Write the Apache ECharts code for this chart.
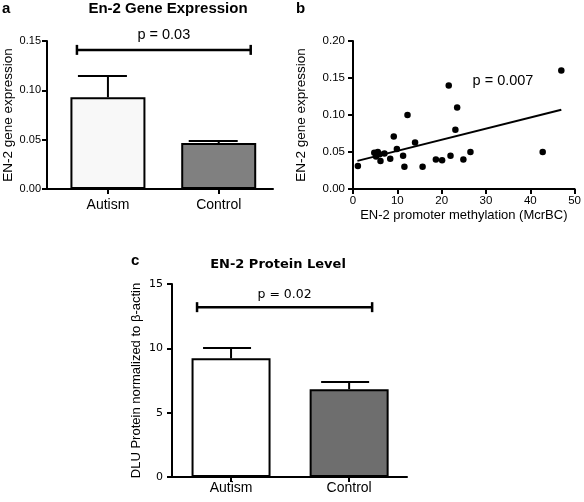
<!DOCTYPE html>
<html>
<head>
<meta charset="utf-8">
<script src="https://cdn.jsdelivr.net/npm/echarts@6/dist/echarts.min.js"></script>
<style>html,body{margin:0;padding:0;background:#fff}#c{width:584px;height:502px}</style>
</head>
<body>
<div id="c"></div>
<script>
// ---- data ----
const groups = ['Autism', 'Control'];
const geneMean = [0.093, 0.0466];
const geneSem = [0.0215, 0.002];
const geneBracketY = 0.141;
const genePLabel = 'p = 0.03';

const methX = [1.1, 4.8, 5.2, 5.6, 6.0, 6.2, 7.1, 8.4, 9.2, 9.9, 11.3, 11.6, 12.3, 14.0, 15.7, 18.7, 20.1, 21.6, 22.0, 23.1, 23.5, 24.9, 26.5, 42.8, 47.0];
const methY = [0.031, 0.049, 0.044, 0.050, 0.047, 0.038, 0.048, 0.041, 0.071, 0.054, 0.045, 0.030, 0.100, 0.063, 0.030, 0.040, 0.039, 0.140, 0.045, 0.080, 0.110, 0.040, 0.050, 0.050, 0.160];
const fitX = [1.0, 47.0];
const fitY = [0.038, 0.107];
const methPLabel = 'p = 0.007';

const protMean = [9.22, 6.82];
const protSem = [0.8, 0.56];
const protBracketY = 13.2;
const protPLabel = 'p = 0.02';

// ---- styles ----
const FF = 'Liberation Sans, Arial, sans-serif';
const FD = 'DejaVu Sans, sans-serif';
const TXT = '#000';
const barFillA = ['#f8f8f8', '#808080'];
const barFillC = ['#ffffff', '#6e6e6e'];
const axisLine = { show: true, onZero: false, lineStyle: { color: '#000', width: 2 } };
const axisTick = { show: true, length: 5, lineStyle: { color: '#000', width: 2 } };

function errSeries(means, sems, xi, yi, capL, capR) {
  return {
    type: 'custom', xAxisIndex: xi, yAxisIndex: yi, z: 1,
    data: means.map((m, i) => [i, m, m + sems[i]]),
    renderItem: function (params, api) {
      const b = api.coord([api.value(0), api.value(1)]);
      const e = api.coord([api.value(0), api.value(2)]);
      const st = { stroke: '#000', lineWidth: 2 };
      return { type: 'group', children: [
        { type: 'line', shape: { x1: b[0], y1: b[1], x2: e[0], y2: e[1] }, style: st },
        { type: 'line', shape: { x1: e[0] - capL, y1: e[1], x2: e[0] + capR, y2: e[1] }, style: st }
      ]};
    }
  };
}
function bracketSeries(y, label, xi, yi, offL, offR, font, size, gap) {
  return {
    type: 'custom', xAxisIndex: xi, yAxisIndex: yi, z: 5,
    data: [[0, y, 1]],
    renderItem: function (params, api) {
      const p0 = api.coord([api.value(0), api.value(1)]);
      const p1 = api.coord([api.value(2), api.value(1)]);
      const xl = p0[0] - offL, xr = p1[0] + offR, yy = p0[1];
      const st = { stroke: '#000', lineWidth: 2.5 };
      return { type: 'group', children: [
        { type: 'line', shape: { x1: xl, y1: yy, x2: xr, y2: yy }, style: st },
        { type: 'line', shape: { x1: xl, y1: yy - 5, x2: xl, y2: yy + 5 }, style: st },
        { type: 'line', shape: { x1: xr, y1: yy - 5, x2: xr, y2: yy + 5 }, style: st },
        { type: 'text', style: { text: label, x: (xl + xr) / 2, y: yy - gap, align: 'center', verticalAlign: 'bottom', fontFamily: font, fontSize: size, fill: TXT } }
      ]};
    }
  };
}

const chart = echarts.init(document.getElementById('c'), null, { renderer: 'canvas' });
chart.setOption({
  animation: false,
  backgroundColor: '#fff',
  grid: [
    { left: 47, top: 41, width: 226, height: 148 },
    { left: 353, top: 41, width: 223, height: 148 },
    { left: 172, top: 284, width: 235, height: 193 }
  ],
  xAxis: [
    {
      gridIndex: 0, type: 'value', min: -0.55, max: 1.49, splitLine: { show: false }, axisLine: axisLine,
      axisTick: Object.assign({}, axisTick, { customValues: [0, 1] }),
      axisLabel: { customValues: [0, 1], formatter: v => groups[Math.round(v)], margin: 9, color: TXT, fontFamily: FF, fontSize: 14 }
    },
    {
      gridIndex: 1, type: 'value', min: 0, max: 50, interval: 10, splitLine: { show: false }, axisLine: axisLine, axisTick: axisTick,
      axisLabel: { margin: 6, color: TXT, fontFamily: FF, fontSize: 11.5 },
      name: 'EN-2 promoter methylation (McrBC)', nameLocation: 'middle', nameGap: 20,
      nameTextStyle: { color: TXT, fontFamily: FF, fontSize: 13, verticalAlign: 'top' }
    },
    {
      gridIndex: 2, type: 'value', min: -0.5, max: 1.49, splitLine: { show: false }, axisLine: axisLine,
      axisTick: Object.assign({}, axisTick, { customValues: [0, 1] }),
      axisLabel: { customValues: [0, 1], formatter: v => groups[Math.round(v)], margin: 4, color: TXT, fontFamily: FF, fontSize: 14 }
    }
  ],
  yAxis: [
    {
      gridIndex: 0, type: 'value', min: 0, max: 0.15, interval: 0.05, splitLine: { show: false }, axisLine: axisLine, axisTick: axisTick,
      axisLabel: { margin: 6, color: TXT, fontFamily: FF, fontSize: 11, formatter: v => v.toFixed(2) },
      name: 'EN-2 gene expression', nameLocation: 'middle', nameGap: 32,
      nameTextStyle: { color: TXT, fontFamily: FF, fontSize: 13.5 }
    },
    {
      gridIndex: 1, type: 'value', min: 0, max: 0.2, interval: 0.05, splitLine: { show: false }, axisLine: axisLine, axisTick: axisTick,
      axisLabel: { margin: 8, color: TXT, fontFamily: FF, fontSize: 11.5, formatter: v => v.toFixed(2) },
      name: 'EN-2 gene expression', nameLocation: 'middle', nameGap: 45,
      nameTextStyle: { color: TXT, fontFamily: FF, fontSize: 13.5 }
    },
    {
      gridIndex: 2, type: 'value', min: 0, max: 15, interval: 5, splitLine: { show: false }, axisLine: axisLine, axisTick: axisTick,
      axisLabel: { margin: 9, color: TXT, fontFamily: FD, fontSize: 11 },
      name: 'DLU Protein normalized to β-actin', nameLocation: 'middle', nameGap: 29,
      nameTextStyle: { color: TXT, fontFamily: FF, fontSize: 13 }
    }
  ],
  graphic: [
    { type: 'text', left: 2, top: 1, style: { text: 'a', font: 'bold 15px ' + FF, fill: '#000' } },
    { type: 'text', left: 296, top: 1, style: { text: 'b', font: 'bold 15px ' + FF, fill: '#000' } },
    { type: 'text', left: 131, top: 253, style: { text: 'c', font: 'bold 15px ' + FF, fill: '#000' } },
    { type: 'text', x: 168, y: 9, style: { text: 'En-2 Gene Expression', align: 'center', verticalAlign: 'middle', font: 'bold 15px ' + FF, fill: TXT } },
    { type: 'text', x: 278, y: 265, style: { text: 'EN-2 Protein Level', align: 'center', verticalAlign: 'middle', font: 'bold 13px ' + FD, fill: TXT } },
    { type: 'text', x: 503, y: 81, style: { text: methPLabel, align: 'center', verticalAlign: 'middle', font: '14.5px ' + FF, fill: TXT } }
  ],
  series: [
    errSeries(geneMean, geneSem, 0, 0, 30, 19),
    {
      type: 'bar', xAxisIndex: 0, yAxisIndex: 0, barWidth: 75, z: 2,
      data: geneMean.map((v, i) => ({ value: [i, v], itemStyle: { color: barFillA[i], borderColor: '#000', borderWidth: 2 } }))
    },
    bracketSeries(geneBracketY, genePLabel, 0, 0, 31, 32, FF, 14.5, 7),
    {
      type: 'scatter', xAxisIndex: 1, yAxisIndex: 1, symbolSize: 6.5,
      itemStyle: { color: '#000', opacity: 1 },
      data: methX.map((x, i) => [x, methY[i]])
    },
    {
      type: 'line', xAxisIndex: 1, yAxisIndex: 1, symbol: 'none',
      lineStyle: { color: '#000', width: 2 },
      data: fitX.map((x, i) => [x, fitY[i]])
    },
    errSeries(protMean, protSem, 2, 2, 28, 20),
    {
      type: 'bar', xAxisIndex: 2, yAxisIndex: 2, barWidth: 79, z: 2,
      data: protMean.map((v, i) => ({ value: [i, v], itemStyle: { color: barFillC[i], borderColor: '#000', borderWidth: 2 } }))
    },
    bracketSeries(protBracketY, protPLabel, 2, 2, 34, 23, FD, 12.5, 6)
  ]
});
</script>
</body>
</html>
